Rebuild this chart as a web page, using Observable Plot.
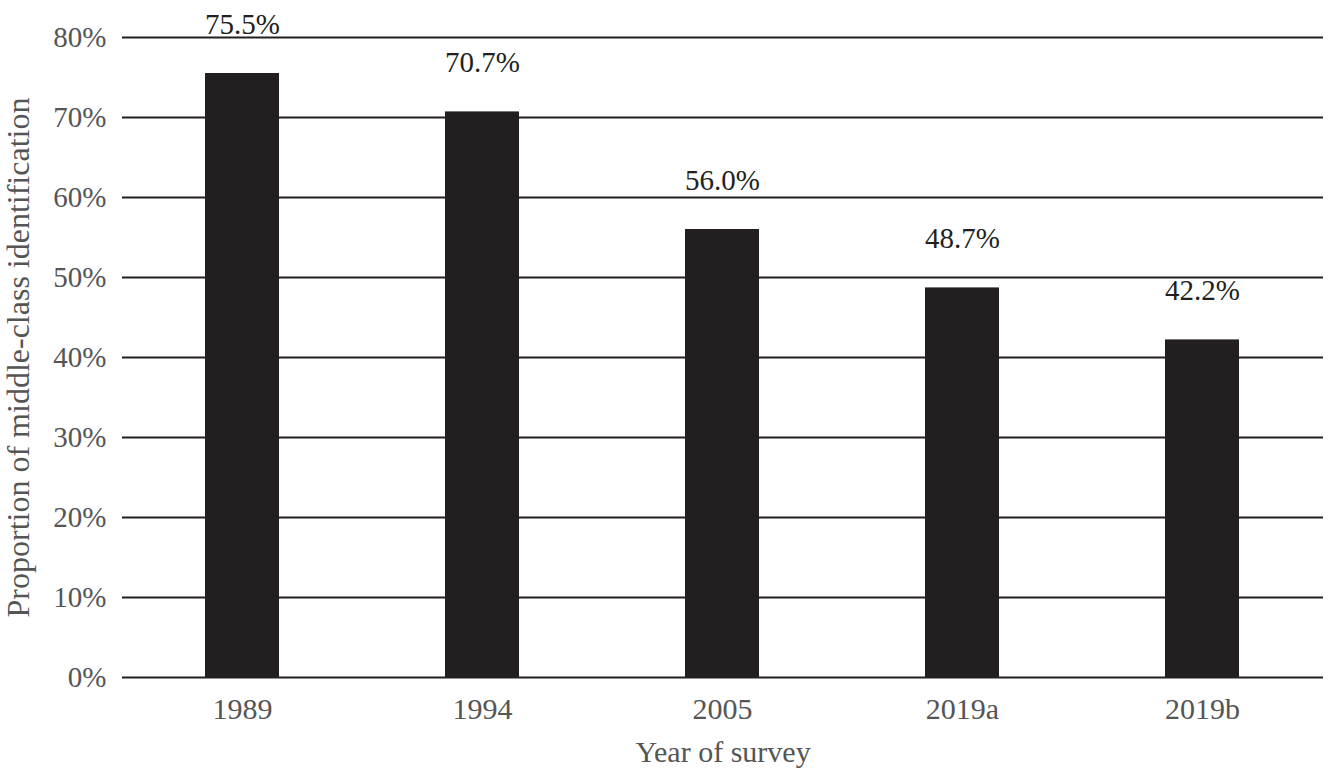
<!DOCTYPE html>
<html><head><meta charset="utf-8">
<script src="https://cdn.jsdelivr.net/npm/d3@7"></script>
<script src="https://cdn.jsdelivr.net/npm/@observablehq/plot@0.6"></script>
<style>body{margin:0;background:#fff}</style>
</head><body><div id="chart"></div>
<script>
const years = ["1989", "1994", "2005", "2019a", "2019b"];
const shares = [75.5, 70.7, 56.0, 48.7, 42.2];
const yTicks = [0, 10, 20, 30, 40, 50, 60, 70, 80];
const data = years.map((y, i) => ({year: y, share: shares[i]}));
const ink = "#231f20";
const gray = "#555555";
const chart = Plot.plot({
  width: 1342, height: 776,
  marginTop: 37, marginBottom: 99, marginLeft: 122, marginRight: 19,
  style: {fontFamily: "'Liberation Serif', 'DejaVu Serif', serif", fontSize: "29px", background: "#fff"},
  x: {domain: years, paddingInner: 0.69, paddingOuter: 0.345},
  y: {domain: [0, 80]},
  marks: [
    Plot.gridY(yTicks, {stroke: ink, strokeWidth: 2, strokeOpacity: 1}),
    Plot.barY(data, {x: "year", y: "share", fill: ink}),
    Plot.text(data, {x: "year", y: "share", text: d => d.share.toFixed(1) + "%", dy: -49, lineAnchor: "middle", fill: ink, fontSize: 29}),
    Plot.axisX({tickSize: 0, tickPadding: 20, fill: gray, fontSize: 30, label: "Year of survey", labelAnchor: "center", labelArrow: "none", labelOffset: 84}),
    Plot.axisY(yTicks, {tickSize: 0, tickPadding: 16, fill: gray, fontSize: 29, tickFormat: d => d + "%", label: null}),
    Plot.axisY(yTicks, {tickSize: 0, ticks: [], text: null, fill: gray, fontSize: 32, label: "Proportion of middle-class identification", labelAnchor: "center", labelArrow: "none", labelOffset: 116})
  ]
});
document.getElementById("chart").append(chart);
</script>
</body></html>
